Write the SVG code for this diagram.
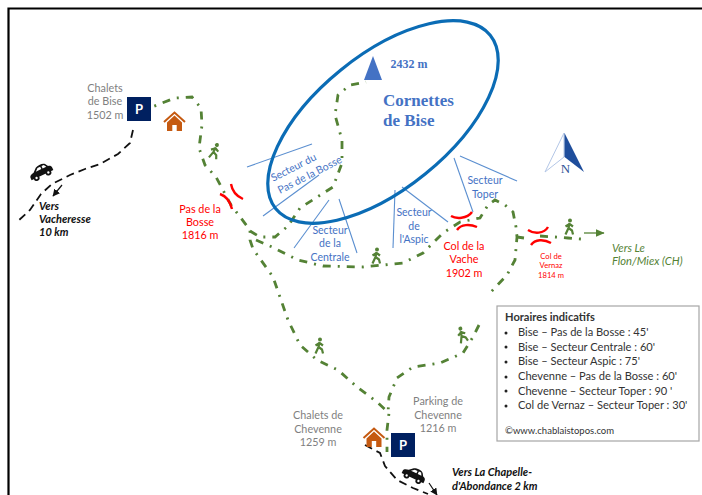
<svg xmlns="http://www.w3.org/2000/svg" width="702" height="495" viewBox="0 0 702 495">
<style>
text{font-family:"Lato","Liberation Sans",sans-serif;font-size:11px;text-anchor:middle}
.g{fill:#7f7f7f;font-size:10.800px}
.r{fill:#ff0000;font-size:10.800px}
.rs{fill:#ff0000;font-size:7.600px}
.b{fill:#4472c4;font-size:10.500px}
.k{fill:#111;font-style:italic;font-weight:bold;font-size:11px;text-anchor:start}
.v{fill:#548235;font-style:italic;font-size:11.200px;text-anchor:start}
.s{font-family:"Liberation Serif",serif;fill:#4472c4;font-weight:bold}
.l{fill:#333;font-size:11.100px;text-anchor:start}
.trail{fill:none;stroke:#548235;stroke-width:2.800;stroke-dasharray:8 7 2 7}
.road{fill:none;stroke:#111;stroke-width:1.800;stroke-dasharray:8 5}
.sec{stroke:#5b8fd0;stroke-width:1.100;fill:none}
.col{fill:none;stroke:#ff0000;stroke-width:2.400}
.ped{fill:#548235}
.pedl{fill:none;stroke:#548235;stroke-width:2.200;stroke-linejoin:round}
.park{fill:#002060}
.pt{fill:#fff;font-weight:bold;font-size:13px}
</style>
<defs>
<marker id="ak" markerWidth="7" markerHeight="7" refX="5.500" refY="3" orient="auto"><path d="M0 0L6 3L0 6Z" fill="#111"/></marker>
<marker id="ag" markerWidth="8" markerHeight="7" refX="6.500" refY="3" orient="auto"><path d="M0 0L7 3L0 6Z" fill="#548235"/></marker>
<g id="walker"><circle cx="1" cy="-7.500" r="2" class="ped"/><path class="pedl" d="M0.500-5L-0.500 0M-0.500 0L-3.500 6.500M-0.500 0L3 2.500L4 6.500M0.500-4L-3.500-1.500M0.500-4L4-1.500"/></g>
<g id="house-i"><path d="M-10.500 0L0-9.500L10.500 0" fill="none" stroke="#c55a11" stroke-width="2"/><path fill="#c55a11" d="M0-6.500L-7.500 0.500V9H-2.200V3H2.200V9H7.500V0.500Z"/></g>
<g id="car-i"><path fill="#111" d="M-12 1C-12-1-10-2-7-2.500L-3-6C0-7.500 5-7.500 7-5.500L9-2.500C11-2 12-1 12 1L12 3.500H-12Z"/><path fill="#fff" d="M-4.500-2.500L-1.500-5.200H1.500V-2.500ZM3-2.500V-5.200H5.500L7-2.500Z"/><circle cx="-6.500" cy="3.500" r="3" fill="#111"/><circle cx="6.500" cy="3.500" r="3" fill="#111"/><circle cx="-6.500" cy="3.500" r="1.200" fill="#fff"/><circle cx="6.500" cy="3.500" r="1.200" fill="#fff"/></g>
</defs>
<rect width="702" height="495" fill="#fff"/>
<path id="frame" d="M8.500 495V8.500H702" fill="none" stroke="#000" stroke-width="2.200"/>

<g id="connectors">
<path class="road" d="M133 130L130 143L118 154L100 164L85 169L70 175L52 184L41 194L30 210L18 221"/>
<path class="road" d="M365 445L380 453L385 466L397 480L413 488L428 494"/>
<path d="M62 185L53 196" stroke="#111" stroke-width="1.200" marker-end="url(#ak)"/>
<path d="M429 483L437 495" stroke="#111" stroke-width="1.200" marker-end="url(#ak)"/>
<path d="M584 233H604" stroke="#548235" stroke-width="1.300" marker-end="url(#ag)"/>
<path class="trail" d="M146 118L152 107L175 98L192 97L201 108L202 125L199 148L205 165L216 177L231 205L250 230L250 240L253 249L273 277L288 320L300 345L317 360L338 370L357 387L377 402L389 413L387 430L387 452"/>
<path class="trail" d="M250 231L260 237L275 237L288 226L300 208L333 187L342 163L342 140L335 115L338 95L350 85L366 82"/>
<path class="trail" d="M256 240L272 247L298 260L323 266L363 267L403 263L423 253L443 233L460 222L480 218L488 205L495 200L505 205L513 212L516 227L517 237L515 260L507 275L490 293"/>
<path class="trail" d="M479 325L473 337L463 353L440 363L413 367L397 378L389 397L388 413"/>
<path class="trail" d="M517 237L524 238M540 236L555 237L568 238L581 239"/>
<g class="sec">
<path d="M247 167L312 144"/><path d="M263 216L319 175"/><path d="M294 248L329 200"/><path d="M339 199L357 253"/>
<path d="M395 190L393 248"/><path d="M402 187L448 222"/><path d="M454 158L473 212"/><path d="M460 156L517 181"/>
</g>
</g>

<ellipse id="massif" cx="383" cy="122" rx="138" ry="67" transform="rotate(-39 383 122)" fill="none" stroke="#0b6cb5" stroke-width="3.200"/>

<g id="sommet"><path d="M373 56L364 80H382Z" fill="#4472c4"/><text class="s" x="409" y="68" style="font-size:12px">2432 m</text></g>
<g id="cornettes"><text class="s" x="383" y="106" style="font-size:17px;text-anchor:start">Cornettes</text><text class="s" x="383" y="126" style="font-size:17px;text-anchor:start">de Bise</text></g>

<g id="chalets-bise"><text class="g" x="105" y="92">Chalets</text><text class="g" x="105" y="105">de Bise</text><text class="g" x="105" y="119">1502 m</text></g>
<g id="parking-bise"><rect x="127" y="97" width="24" height="24" class="park"/><text class="pt" x="139" y="114">P</text></g>
<use id="house-bise" href="#house-i" x="174.500" y="122"/>
<g id="vers-vacheresse"><text class="k" x="39" y="210">Vers</text><text class="k" x="39" y="223">Vacheresse</text><text class="k" x="39" y="236">10 km</text></g>
<use id="car-1" href="#car-i" transform="translate(41 172) rotate(-25)"/>
<use id="walker-1" href="#walker" transform="translate(214 152) rotate(15)"/>

<g id="pas-bosse"><path class="col" d="M220 194C226 196 230 201 232 209"/><path class="col" d="M231 184C232 190 236 196 243 199"/><text class="r" x="200" y="213">Pas de la</text><text class="r" x="200" y="226">Bosse</text><text class="r" x="200" y="239">1816 m</text></g>

<g id="secteur-bosse" transform="rotate(-27 305 170)"><text class="b" x="296" y="166">Secteur du</text><text class="b" x="307" y="180">Pas de la Bosse</text></g>
<g id="secteur-centrale"><text class="b" x="330" y="234">Secteur</text><text class="b" x="330" y="247">de la</text><text class="b" x="330" y="261">Centrale</text></g>
<g id="secteur-aspic"><text class="b" x="414" y="216">Secteur</text><text class="b" x="414" y="230">de</text><text class="b" x="414" y="243">l'Aspic</text></g>
<g id="secteur-toper"><text class="b" x="485" y="184">Secteur</text><text class="b" x="485" y="198">Toper</text></g>
<use id="walker-2" href="#walker" x="376" y="257"/>

<g id="col-vache"><path class="col" d="M451 216C456 219 467 219 472 212"/><path class="col" d="M457 230C461 224 470 224 477 227"/><text class="r" x="464" y="250">Col de la</text><text class="r" x="464" y="263">Vache</text><text class="r" x="464" y="277">1902 m</text></g>
<g id="col-vernaz"><path class="col" d="M528 230C534 234 544 234 548 227"/><path class="col" d="M531 245C535 239 544 239 551 243"/><text class="rs" x="551" y="259">Col de</text><text class="rs" x="551" y="268">Vernaz</text><text class="rs" x="551" y="278">1814 m</text></g>
<use id="walker-3" href="#walker" x="569" y="228"/>
<g id="vers-flon"><text class="v" x="612" y="252">Vers Le</text><text class="v" x="612" y="265">Flon/Miex (CH)</text></g>

<g id="nord"><path d="M564 133L545 172L564 157Z" fill="#fff" stroke="#b4c7e7" stroke-width="1"/><path d="M564.500 133L584 172L564.500 157Z" fill="#1f4e9c"/><text x="565.500" y="173" style="font-family:'Liberation Serif',serif;font-size:13px;fill:#2f5597">N</text></g>

<g id="horaires">
<rect x="497" y="306" width="202" height="135" fill="#fff" stroke="#a6a6a6" stroke-width="1.200"/>
<text class="l" x="505" y="321" style="font-weight:bold">Horaires indicatifs</text>
<g fill="#222"><circle cx="506" cy="333" r="1.500"/><circle cx="506" cy="347" r="1.500"/><circle cx="506" cy="362" r="1.500"/><circle cx="506" cy="377" r="1.500"/><circle cx="506" cy="391" r="1.500"/><circle cx="506" cy="406" r="1.500"/></g>
<text class="l" x="518" y="336">Bise – Pas de la Bosse : 45'</text>
<text class="l" x="518" y="351">Bise – Secteur Centrale : 60'</text>
<text class="l" x="518" y="365">Bise – Secteur Aspic : 75'</text>
<text class="l" x="518" y="380">Chevenne – Pas de la Bosse : 60'</text>
<text class="l" x="518" y="395">Chevenne – Secteur Toper : 90 '</text>
<text class="l" x="518" y="409">Col de Vernaz – Secteur Toper : 30'</text>
<text class="l" x="505" y="434" style="font-size:9.500px">©www.chablaistopos.com</text>
</g>

<use id="walker-4" href="#walker" x="319" y="347"/>
<use id="walker-5" href="#walker" transform="translate(462 336) rotate(-20)"/>
<g id="chalets-chevenne"><text class="g" x="318" y="419">Chalets de</text><text class="g" x="318" y="433">Chevenne</text><text class="g" x="318" y="446">1259 m</text></g>
<g id="parking-chevenne-label"><text class="g" x="438" y="405">Parking de</text><text class="g" x="438" y="419">Chevenne</text><text class="g" x="438" y="432">1216 m</text></g>
<use id="house-chevenne" href="#house-i" x="374" y="438"/>
<g id="parking-chevenne"><rect x="391" y="433" width="24" height="24" class="park"/><text class="pt" x="403" y="450">P</text></g>
<use id="car-2" href="#car-i" transform="translate(414 475) rotate(25)"/>
<g id="vers-chapelle"><text class="k" x="452" y="476">Vers La Chapelle-</text><text class="k" x="452" y="490">d'Abondance 2 km</text></g>
</svg>
